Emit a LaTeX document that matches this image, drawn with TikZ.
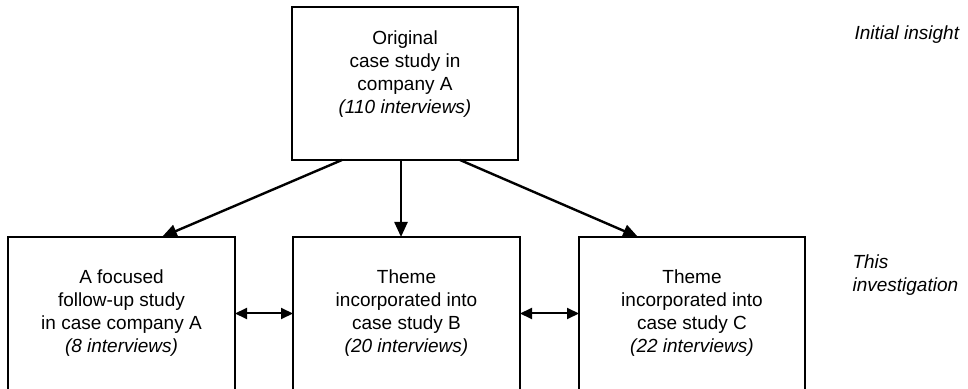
\documentclass[tikz,border=0pt]{standalone}
\usepackage{fontspec}
\setmainfont{Liberation Sans}
\usetikzlibrary{arrows.meta, calc, positioning}

\begin{document}
\begin{tikzpicture}[x=1pt, y=1pt,
    every node/.style={font=\fontsize{19}{23}\selectfont},
    studybox/.style={draw, line width=1.2pt, minimum width=226pt, minimum height=153pt,
      align=center, inner sep=0pt, outer sep=0pt},
    flow/.style={line width=2.4pt, -{Triangle[length=15pt, width=13pt]}},
    link/.style={line width=2pt, {Triangle[length=12pt, width=11pt]}-{Triangle[length=12pt, width=11pt]}},
    side/.style={align=left, anchor=west, font=\fontsize{19}{23}\selectfont\itshape}]
  \useasboundingbox (0,0) rectangle (968,388);
  % studies as boxes
  \node[studybox] (orig) at (405,304.5)
    {Original\\case study in\\company A\\\textit{(110 interviews)}\\ \mbox{}};
  \node[studybox, minimum width=227pt] (followA) at (121.5,74.5)
    {A focused\\follow-up study\\in case company A\\\textit{(8 interviews)}};
  \node[studybox, minimum width=227pt] (themeB) at (406.5,74.5)
    {Theme\\incorporated into\\case study B\\\textit{(20 interviews)}};
  \node[studybox] (themeC) at (692,74.5)
    {Theme\\incorporated into\\case study C\\\textit{(22 interviews)}};
  % stage labels
  \node[side] (insight) at (851,353) {Initial insight};
  \node[side] (invest) at (849,113) {This\\investigation};
  % arrows
  \coordinate (midstart) at ($(orig.south)+(-4,0)$);
  \draw[flow] ($(orig.south west)+(50,0)$) -- ($(followA.north)+(40.5,0)$);
  \draw[flow] (midstart) -- (midstart |- themeB.north);
  \draw[flow] ($(orig.south east)+(-58,0)$) -- ($(themeC.north)+(-54,0)$);
  \draw[link] (followA.east) -- (themeB.west);
  \draw[link] (themeB.east) -- (themeC.west);
\end{tikzpicture}
\end{document}
